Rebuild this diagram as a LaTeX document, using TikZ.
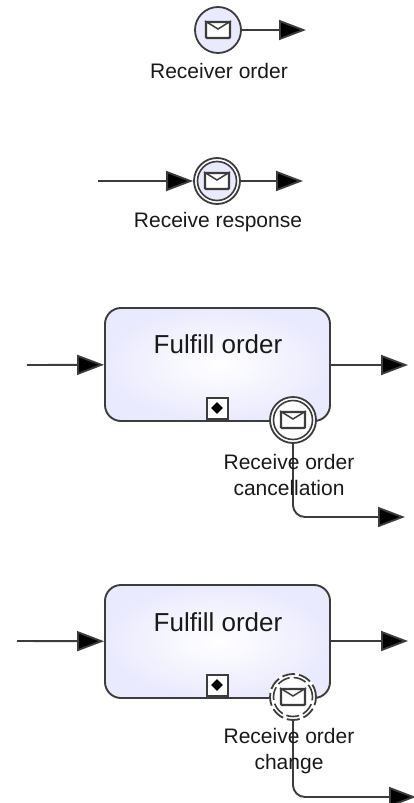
\documentclass[tikz,border=0pt]{standalone}
\usepackage{fontspec}
\setmainfont{Liberation Sans}
\usetikzlibrary{arrows.meta,shapes.geometric,calc}
\definecolor{lav}{RGB}{234,234,254}
\definecolor{ln}{RGB}{60,60,60}
\tikzset{
  flow/.style={draw=ln,line width=1.9pt,rounded corners=12pt,-{Triangle[length=27pt,width=20pt,fill=black]}},
  tasknode/.style={draw=ln,line width=1.9pt,rounded corners=16pt,minimum width=225pt,minimum height=113pt,inner sep=0pt,inner color=white,outer color=lav},
  evt/.style={circle,draw=ln,line width=1.8pt,minimum size=46pt,inner sep=0pt,fill=white},
  evtfill/.style={evt,fill=lav},
  evtin/.style={circle,draw=ln,line width=1.6pt,minimum size=39pt,inner sep=0pt,fill=white},
  mail/.style={draw=ln,line width=2.2pt,fill=white,minimum width=24pt,minimum height=16pt,inner sep=0pt,rounded corners=1pt},
  lbl/.style={font=\fontsize{21pt}{26pt}\selectfont,text=black!90,inner sep=0pt,align=center},
  ttl/.style={font=\fontsize{26pt}{30pt}\selectfont,text=black!90,inner sep=0pt},
  marker/.style={draw=ln,line width=2pt,fill=white,minimum size=21pt,inner sep=0pt},
  markdia/.style={diamond,fill=black,minimum size=12pt,inner sep=0pt},
}
\newcommand{\envflap}[1]{\draw[ln,line width=1.5pt] (#1.north west) -- ($(#1.center)+(0pt,1pt)$) -- (#1.north east);}
\begin{document}
\begin{tikzpicture}[x=1pt,y=-1pt]
\useasboundingbox (0,0) rectangle (414,803);
% free ends
\coordinate (o1) at (306,30);
\coordinate (i2) at (98,181);
\coordinate (o2) at (303,181);
\coordinate (i3) at (27,365);
\coordinate (o3) at (408,365);
\coordinate (b3) at (405,517);
\coordinate (i4) at (17,641);
\coordinate (o4) at (408,641);
\coordinate (b4) at (416,797);
% top event
\node[evtfill] (e1) at (218,30) {};
\node[mail] (m1) at (218,30) {};
\envflap{m1}
\draw[flow] (e1) -- (o1);
\node[lbl] (l1) at (219,71) {Receiver order};
% intermediate event
\node[evt] (e2) at (217,181) {};
\node[evtin,fill=lav] (e2i) at (217,181) {};
\node[mail] (m2) at (217,181) {};
\envflap{m2}
\draw[flow] (i2) -- (e2);
\draw[flow] (e2) -- (o2);
\node[lbl] (l2) at (218,222) {Receive response};
% task 1
\node[tasknode] (t1) at (217.5,364.5) {};
\node[ttl] (tt1) at (218,344) {Fulfill order};
\node[marker] (s1) at (217,408) {};
\node[markdia] (d1) at (217,408) {};
\draw[flow] (i3) -- (t1);
\draw[flow] (t1.east |- o3) -- (o3);
\node[evt] (e3) at (293,420) {};
\node[evtin] (e3i) at (293,420) {};
\node[mail] (m3) at (293,420) {};
\envflap{m3}
\draw[flow] (e3.south) |- (b3);
\node[lbl] (l3) at (289,475) {Receive order\\cancellation};
% task 2
\node[tasknode] (t2) at (217.5,641.5) {};
\node[ttl] (tt2) at (218,622) {Fulfill order};
\node[marker] (s2) at (217,685) {};
\node[markdia] (d2) at (217,685) {};
\draw[flow] (i4) -- (t2);
\draw[flow] (t2.east |- o4) -- (o4);
\node[evt,draw=white] (e4) at (293,697) {};
\node[evt,dash pattern=on 13pt off 4pt] (e4o) at (293,697) {};
\node[evtin,draw=ln,dash pattern=on 13pt off 4pt,fill=white] (e4i) at (293,697) {};
\node[mail] (m4) at (293,697) {};
\envflap{m4}
\draw[flow] (e4.south) |- (b4);
\node[lbl] (l4) at (289,751.5) {Receive order\\change};
\end{tikzpicture}
\end{document}
